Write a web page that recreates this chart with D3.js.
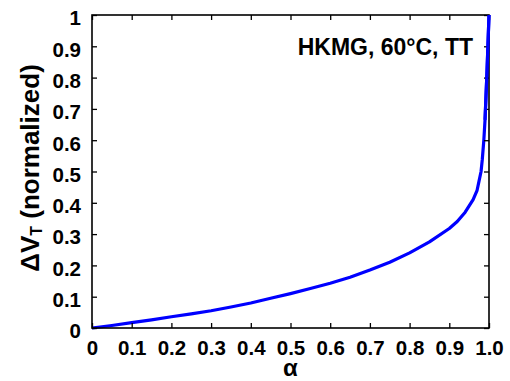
<!DOCTYPE html>
<html>
<head>
<meta charset="utf-8">
<script src="https://cdn.jsdelivr.net/npm/d3@7"></script>
<style>
  html, body { margin: 0; padding: 0; background: #fff; }
  svg { display: block; }
  text { font-family: "Liberation Sans", Arial, sans-serif; font-weight: bold; fill: #000; }
</style>
</head>
<body>
<svg id="chart" width="510" height="381"></svg>
<script>
// ---- data ----
const alpha = [0, 0.05, 0.1, 0.15, 0.2, 0.25, 0.3, 0.35, 0.4, 0.45, 0.5, 0.55, 0.6, 0.65, 0.7, 0.75, 0.8, 0.85, 0.9, 0.92, 0.94, 0.95, 0.96, 0.97, 0.975, 0.98, 0.983, 0.987, 0.99, 0.995, 1.0];
const dvt   = [0, 0.008, 0.017, 0.026, 0.036, 0.045, 0.055, 0.067, 0.08, 0.095, 0.11, 0.126, 0.143, 0.162, 0.185, 0.21, 0.24, 0.275, 0.318, 0.34, 0.37, 0.39, 0.41, 0.44, 0.47, 0.5, 0.537, 0.60, 0.665, 0.82, 1.0];
const xTicks = [0, 0.1, 0.2, 0.3, 0.4, 0.5, 0.6, 0.7, 0.8, 0.9, 1.0];
const xTickLabels = ["0", "0.1", "0.2", "0.3", "0.4", "0.5", "0.6", "0.7", "0.8", "0.9", "1.0"];
const yTicks = [0, 0.1, 0.2, 0.3, 0.4, 0.5, 0.6, 0.7, 0.8, 0.9, 1];
const yTickLabels = ["0", "0.1", "0.2", "0.3", "0.4", "0.5", "0.6", "0.7", "0.8", "0.9", "1"];
const annotation = "HKMG, 60°C, TT";

// ---- layout ----
const L = 92, R = 489, T = 15, B = 328;
const svg = d3.select("#chart");
const x = d3.scaleLinear().domain([0, 1]).range([L, R]);
const y = d3.scaleLinear().domain([0, 1]).range([B, T]);
const tickLen = 5;

// curve
const line = d3.line().x((d, i) => x(alpha[i])).y(d => y(d));
svg.append("path")
  .datum(dvt)
  .attr("d", line)
  .attr("fill", "none")
  .attr("stroke", "#0000ff")
  .attr("stroke-width", 3.2)
  .attr("stroke-linejoin", "round");

// axes (ticks inward, mirrored)
const axB = d3.axisBottom(x).tickValues(xTicks).tickSize(-tickLen).tickFormat((d, i) => xTickLabels[i]);
const axT = d3.axisTop(x).tickValues(xTicks).tickSize(-tickLen).tickFormat("");
const axL = d3.axisLeft(y).tickValues(yTicks).tickSize(-tickLen).tickFormat((d, i) => yTickLabels[i]).tickPadding(11);
const axR = d3.axisRight(y).tickValues(yTicks).tickSize(-tickLen).tickFormat("");

function style(g) {
  g.select(".domain").remove();
  g.selectAll(".tick line").attr("stroke", "#000").attr("stroke-width", 1.3);
  g.selectAll(".tick text").attr("font-size", 20.5).attr("fill", "#000")
    .style("font-family", '"Liberation Sans", Arial, sans-serif').style("font-weight", "bold");
}
svg.append("g").attr("transform", `translate(0,${B})`).call(axB).call(style)
  .selectAll(".tick text").attr("dy", 0).attr("y", 27);
svg.append("g").attr("transform", `translate(0,${T})`).call(axT).call(style);
svg.append("g").attr("transform", `translate(${L},0)`).call(axL).call(style)
  .selectAll(".tick text").attr("dy", "0.48em");
svg.append("g").attr("transform", `translate(${R},0)`).call(axR).call(style);

// frame
svg.append("rect")
  .attr("x", L).attr("y", T).attr("width", R - L).attr("height", B - T)
  .attr("fill", "none").attr("stroke", "#000").attr("stroke-width", 1.6);

// redraw top of curve over the frame (as in reference)
svg.append("path")
  .datum(dvt.slice(-3))
  .attr("d", d3.line().x((d, i) => x(alpha[alpha.length - 3 + i])).y(d => y(d)))
  .attr("fill", "none").attr("stroke", "#0000ff").attr("stroke-width", 3.2);

// annotation
svg.append("text")
  .attr("x", 473).attr("y", 55)
  .attr("text-anchor", "end")
  .attr("font-size", 23)
  .text(annotation);

// x label
svg.append("text")
  .attr("x", (L + R) / 2).attr("y", 376)
  .attr("text-anchor", "middle")
  .attr("font-size", 24)
  .text("α");

// y label
const yl = svg.append("text")
  .attr("transform", "translate(39,168) rotate(-90)")
  .attr("text-anchor", "middle")
  .attr("font-size", 26);
yl.append("tspan").text("ΔV");
yl.append("tspan").attr("font-size", 16).attr("dy", 3).text("T");
yl.append("tspan").attr("dy", -3).text(" (normalized)");
</script>
</body>
</html>
